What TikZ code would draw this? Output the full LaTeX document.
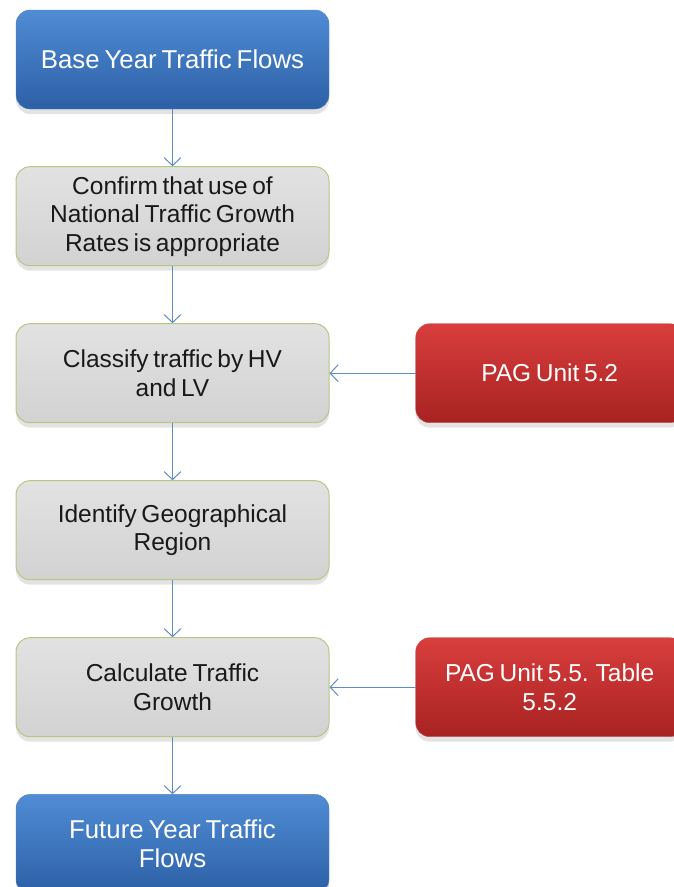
\documentclass[tikz,border=0pt]{standalone}
\usepackage{fontspec}
\setmainfont{Liberation Sans}
\usetikzlibrary{positioning, arrows.meta, shadows}

\definecolor{endtop}{RGB}{80,140,212}
\definecolor{endbot}{RGB}{44,96,166}
\definecolor{steptop}{RGB}{226,226,226}
\definecolor{stepbot}{RGB}{210,210,210}
\definecolor{stepline}{RGB}{180,200,130}
\definecolor{reftop}{RGB}{216,62,60}
\definecolor{refbot}{RGB}{168,34,34}
\definecolor{linkblue}{RGB}{96,140,196}

\newcommand{\boxfont}{\fontsize{24.5}{28.5}\selectfont\spaceskip=0.19em plus 0.05em\relax}
\newcommand{\flowfont}{\fontsize{25.8}{29.5}\selectfont\spaceskip=0.19em plus 0.05em\relax}

\begin{document}
\begin{tikzpicture}[
  x=1pt, y=1pt,
  node distance=57pt,
  box/.style={rounded corners=14pt, minimum width=313pt, minimum height=99pt,
    align=center, font=\boxfont,
    drop shadow={opacity=0.22, shadow xshift=0pt, shadow yshift=-5pt}},
  endbox/.style={box, font=\flowfont, top color=endtop, bottom color=endbot, draw=endbot!80, text=white},
  stepbox/.style={box, top color=steptop, bottom color=stepbot, draw=stepline, line width=1pt, text=black!90},
  refbox/.style={box, minimum width=268pt, top color=reftop, bottom color=refbot, draw=refbot!80, text=white},
  link/.style={draw=linkblue, line width=1pt, -{Straight Barb[length=8pt,width=17pt]}}
]
\useasboundingbox (0,0) rectangle (673,-887);

\node (base) [endbox] at (172.5,-59.5) {Base Year Traffic Flows};
\node (confirm) [stepbox, below=of base] {Confirm that use of\\National Traffic Growth\\Rates is appropriate};
\node (classify) [stepbox, below=of confirm] {Classify traffic by HV\\and LV};
\node (region) [stepbox, below=of classify] {Identify Geographical\\Region};
\node (calc) [stepbox, below=of region] {Calculate Traffic\\Growth};
\node (future) [endbox, below=of calc] {Future Year Traffic\\Flows};

\node (pag52) [refbox, right=86pt of classify] {PAG Unit 5.2};
\node (pag55) [refbox, right=86pt of calc] {PAG Unit 5.5. Table\\5.5.2};

\draw[link] (base) -- (confirm);
\draw[link] (confirm) -- (classify);
\draw[link] (classify) -- (region);
\draw[link] (region) -- (calc);
\draw[link] (calc) -- (future);

\draw[link] (pag52) -- (classify);
\draw[link] (pag55) -- (calc);
\end{tikzpicture}
\end{document}
